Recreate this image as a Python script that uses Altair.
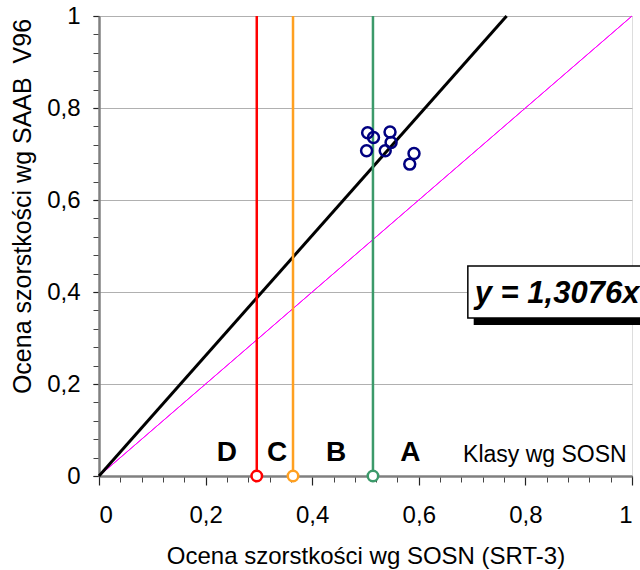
import altair as alt
import pandas as pd

# measured points
pts_x = [0.504, 0.515, 0.546, 0.548, 0.502, 0.537, 0.591, 0.583]
pts_y = [0.746, 0.736, 0.748, 0.725, 0.707, 0.707, 0.701, 0.678]

# class thresholds
thr_x = [0.296, 0.364, 0.514]
thr_color = ["#ff0000", "#ffa020", "#3c9a6a"]

# regression slope
slope = 1.3076

# class labels
cls_names = ["D", "C", "B", "A"]
cls_x = [0.240, 0.334, 0.445, 0.584]
cls_y = [0.05, 0.05, 0.05, 0.05]

major = [0, 0.2, 0.4, 0.6, 0.8, 1.0]
minor = [round(i * 0.04, 2) for i in range(26)]

FONT = "Liberation Sans"
label_expr = "replace(format(datum.value, '~g'), '.', ',')"

xs = alt.Scale(domain=[0, 1], nice=False, zero=False)
ys = alt.Scale(domain=[0, 1], nice=False, zero=False)

pts_df = pd.DataFrame({"x": pts_x, "y": pts_y})
thr_df = pd.DataFrame({"x": thr_x, "c": thr_color, "y0": [0] * 3, "y1": [1] * 3})
fit_df = pd.DataFrame({"x": [0, 1 / slope], "y": [0, 1]})
id_df = pd.DataFrame({"x": [0, 1], "y": [0, 1]})
cls_df = pd.DataFrame({"t": cls_names, "x": cls_x, "y": cls_y})
klasy_df = pd.DataFrame({"t": ["Klasy wg SOSN"], "x": [0.99], "y": [0.046]})
box_df = pd.DataFrame({"x": [0.692], "x2": [1.15], "y": [0.4565], "y2": [0.3435]})
shadow_df = pd.DataFrame({"x": [0.703], "x2": [1.16], "y": [0.4415], "y2": [0.3285]})
eq_df = pd.DataFrame({"t": ["y = 1,3076x"], "x": [0.705], "y": [0.376]})

x_major_axis = alt.Axis(
    values=major, labelExpr=label_expr, title="Ocena szorstkości wg SOSN (SRT-3)",
    grid=False, tickSize=9, tickColor="#222", tickWidth=1.2, domainColor="#808080",
    domainWidth=2.5, labelFont=FONT, labelFontSize=24, labelColor="black",
    labelPadding=18, titleFont=FONT, titleFontSize=24, titleFontWeight="normal",
    titleColor="black", titleY=87, titleBaseline="alphabetic", orient="bottom", zindex=0,
)
y_major_axis = alt.Axis(
    values=major, labelExpr=label_expr, title="Ocena szorstkości wg SAAB\u00a0 V96",
    grid=True, gridColor="#b0b0b0", gridWidth=1, tickSize=6, tickColor="#222",
    tickWidth=1.2, domainColor="#808080", domainWidth=2.5, labelFont=FONT,
    labelFontSize=24, labelColor="black", labelPadding=13, titleFont=FONT,
    titleFontSize=25, titleFontWeight="normal", titleColor="black",
    titleX=-69, titleY=190, titleBaseline="alphabetic", titleAngle=-90,
    orient="left", zindex=0,
)
x_minor_axis = alt.Axis(
    values=minor, labels=False, title=None, grid=False, domain=False, tickSize=6,
    tickColor="#444", tickWidth=1, orient="bottom", zindex=0,
)
y_minor_axis = alt.Axis(
    values=minor, labels=False, title=None, grid=False, domain=False, tickSize=6,
    tickColor="#444", tickWidth=1, orient="left", zindex=0,
)

minor_layer = alt.Chart(id_df).mark_line(color="#ff00ff", strokeWidth=1).encode(
    x=alt.X("x:Q", scale=xs, axis=x_minor_axis),
    y=alt.Y("y:Q", scale=ys, axis=y_minor_axis),
)

ident = alt.Chart(id_df).mark_line(color="#ff00ff", strokeWidth=1).encode(
    x=alt.X("x:Q", scale=xs, axis=x_major_axis),
    y=alt.Y("y:Q", scale=ys, axis=y_major_axis),
)
fit = alt.Chart(fit_df).mark_line(color="black", strokeWidth=3).encode(
    x="x:Q", y="y:Q"
)
thr_rules = alt.Chart(thr_df).mark_rule(strokeWidth=2.5).encode(
    x="x:Q", y="y0:Q", y2="y1:Q",
    color=alt.Color("c:N", scale=None),
)
thr_pts = alt.Chart(thr_df).mark_point(
    shape="circle", filled=False, fill="white", fillOpacity=1, opacity=1,
    size=110, strokeWidth=2.5
).encode(x="x:Q", y="y0:Q", stroke=alt.Color("c:N", scale=None))
points = alt.Chart(pts_df).mark_point(
    shape="circle", filled=False, color="#000080", opacity=1, size=120, strokeWidth=2.5
).encode(x="x:Q", y="y:Q")
cls_text = alt.Chart(cls_df).mark_text(
    font=FONT, fontSize=28, fontWeight="bold", color="black", baseline="middle"
).encode(x="x:Q", y="y:Q", text="t:N")
klasy = alt.Chart(klasy_df).mark_text(
    font=FONT, fontSize=23, color="black", align="right", baseline="middle"
).encode(x="x:Q", y="y:Q", text="t:N")
shadow = alt.Chart(shadow_df).mark_rect(color="black").encode(
    x="x:Q", x2="x2:Q", y="y:Q", y2="y2:Q"
)
box = alt.Chart(box_df).mark_rect(fill="white", stroke="black", strokeWidth=1.5).encode(
    x="x:Q", x2="x2:Q", y="y:Q", y2="y2:Q"
)
eq = alt.Chart(eq_df).mark_text(
    font=FONT, fontSize=31, fontWeight="bold", fontStyle="italic", color="black",
    align="left", baseline="alphabetic"
).encode(x="x:Q", y="y:Q", text="t:N")

main = alt.layer(ident, fit, thr_rules, thr_pts, points, cls_text, klasy, shadow, box, eq)

chart = alt.layer(minor_layer, main).resolve_axis(x="independent", y="independent").properties(
    width=533, height=460,
    autosize=alt.AutoSizeParams(type="none"),
    padding={"left": 99, "top": 16, "right": 8, "bottom": 94},
).configure_view(stroke="#808080", strokeWidth=2.5).configure(background="white")

chart.save("out.html", embed_options={"renderer": "svg", "actions": False})
